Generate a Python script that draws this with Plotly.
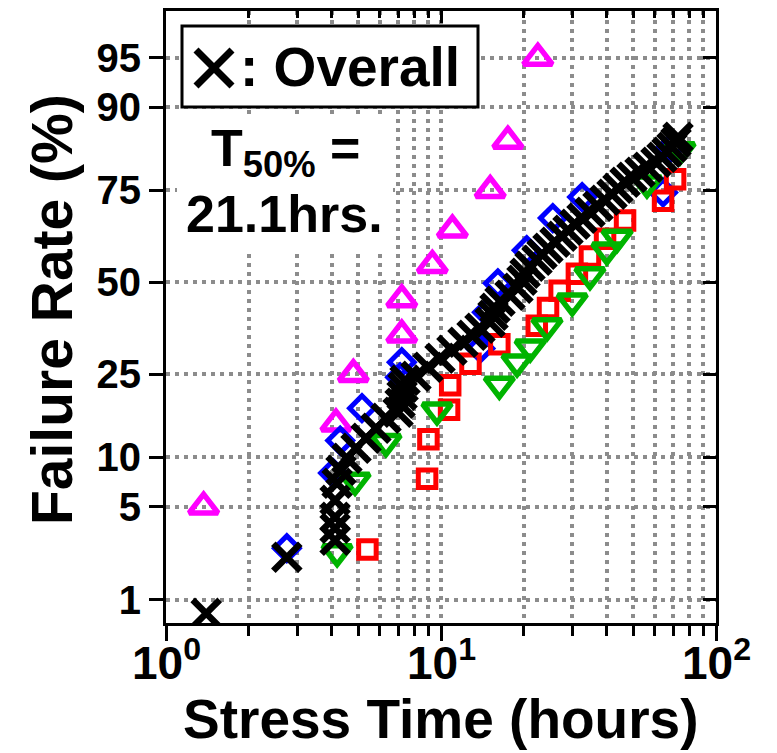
from statistics import NormalDist
import plotly.graph_objects as go

# ---- data: stress time (hours) and cumulative failure rate (%) ----
magenta_hours = [1.37, 4.15, 4.8, 7.2, 7.2, 9.3, 11.0, 15.1, 17.5, 22.5]
magenta_pct = [5, 15, 25, 35, 45, 55, 65, 75, 85, 95]

blue_hours = [2.75, 4.05, 4.3, 5.16, 7.1, 7.2, 13.9, 14.7, 16.1, 20.5, 25.5, 32.6, 64.2, 68.0]
blue_pct = [2.56, 8.1, 12.3, 17.8, 24.3, 27.9, 31.4, 41.3, 49.7, 59.3, 68.1, 73.4, 74.5, 83.7]

red_hours = [5.4, 8.9, 9.0, 10.7, 10.8, 12.8, 16.3, 22.3, 24.5, 27.0, 31.2, 34.8, 39.5, 46.7, 64.2, 71.0]
red_pct = [2.5, 7.5, 12.5, 17.5, 22.5, 27.5, 32.5, 37.5, 42.5, 47.5, 52.5, 57.5, 62.5, 67.5, 72.5, 77.5]

green_hours = [4.19, 4.87, 6.31, 9.67, 16.3, 18.9, 21.1, 24.3, 30.0, 34.8, 40.1, 43.7, 56.1, 74.0]
green_pct = [2.4, 7.3, 12.1, 17.4, 22.7, 27.9, 31.7, 37.4, 44.5, 52.1, 59.3, 62.9, 76.6, 83.4]

overall_hours = [1.40, 2.75, 4.12, 4.12, 4.12, 4.12, 4.19, 4.33, 4.55, 4.91,
                 5.34, 5.80, 6.31, 6.98, 7.10, 7.22, 7.28, 7.40, 8.11, 8.97,
                 9.92, 10.96, 12.02, 12.97, 13.86, 15.08, 15.46, 15.72, 16.39, 17.82,
                 19.05, 19.70, 20.21, 21.07, 22.34, 23.30, 24.49, 25.97, 27.54, 28.96,
                 30.71, 32.57, 34.83, 37.23, 39.48, 41.86, 44.01, 46.69, 49.50, 52.93,
                 56.58, 60.50, 63.62, 66.34, 69.18, 71.54, 72.76]
overall_pct = [0.76, 2.19, 2.93, 3.57, 4.25, 5.50, 7.03, 8.41, 9.85, 11.19,
               12.64, 14.23, 15.94, 17.03, 18.76, 20.38, 22.08, 23.63, 24.54, 26.67,
               28.88, 30.91, 33.01, 34.89, 36.81, 38.48, 40.45, 42.45, 44.47, 46.22,
               48.26, 50.6, 52.64, 54.68, 56.41, 58.14, 59.85, 61.54, 63.21, 64.86,
               66.48, 68.06, 69.62, 71.14, 72.62, 74.07, 75.47, 76.83, 77.94, 79.01,
               80.05, 81.06, 82.03, 82.98, 83.89, 84.77, 85.62]

y_tick_pct = [1, 5, 10, 25, 50, 75, 90, 95]
x_tick_vals = [1, 10, 100]
x_tick_text = ["10<sup>0</sup>", "10<sup>1</sup>", "10<sup>2</sup>"]
x_minor_vals = [2, 3, 4, 5, 6, 7, 8, 9, 20, 30, 40, 50, 60, 70, 80, 90]

# normal-probability (lognormal plot) scale for the failure axis
_nd = NormalDist()


def probit(pct_list):
    return [_nd.inv_cdf(p / 100.0) for p in pct_list]


Y_RANGE = [-2.498, 1.989]
FONT = "Liberation Sans, Arial, sans-serif"
GRID = "#8c8c8c"
DASH = "4px,5px"

fig = go.Figure()


def add_series(hours, pct, symbol, color, size, lw):
    fig.add_trace(go.Scatter(
        x=hours, y=probit(pct), mode="markers", showlegend=False,
        marker=dict(symbol=symbol, size=size, color=color,
                    line=dict(color=color, width=lw)),
    ))


add_series(magenta_hours, magenta_pct, "triangle-up-open", "#ff00ff", 25, 5.5)
add_series(blue_hours, blue_pct, "diamond-open", "#0000ff", 19, 5)
add_series(red_hours, red_pct, "square-open", "#ff0000", 17.5, 5)
add_series(green_hours, green_pct, "triangle-down-open", "#00b400", 25, 5.5)
add_series(overall_hours, overall_pct, "x-thin-open", "#000000", 27, 6.5)

# empty trace that carries the top / right frame axes
fig.add_trace(go.Scatter(x=[], y=[], xaxis="x2", yaxis="y2", showlegend=False))

tick_font = dict(family=FONT, size=40, color="black", weight="bold")

fig.update_layout(
    width=777, height=753,
    margin=dict(l=166, r=61, t=11, b=130),
    paper_bgcolor="white", plot_bgcolor="white",
    showlegend=False,
    xaxis=dict(
        type="log", range=[0, 2], showline=True, linewidth=3, linecolor="black",
        ticks="outside", ticklen=15, tickwidth=3, tickcolor="black",
        tickmode="array", tickvals=x_tick_vals, showticklabels=False,
        showgrid=True, gridcolor=GRID, gridwidth=3.5, griddash=DASH,
        zeroline=False,
        minor=dict(tickmode="array", tickvals=x_minor_vals, ticks="outside",
                   ticklen=10, tickwidth=3, tickcolor="black",
                   showgrid=True, gridcolor=GRID, gridwidth=3.5, griddash=DASH),
    ),
    yaxis=dict(
        range=Y_RANGE, showline=True, linewidth=3, linecolor="black",
        ticks="outside", ticklen=14, tickwidth=3, tickcolor="black",
        tickmode="array", tickvals=probit(y_tick_pct),
        ticktext=[str(p) for p in y_tick_pct], tickfont=tick_font,
        showgrid=True, gridcolor=GRID, gridwidth=3.5, griddash=DASH,
        zeroline=False,
    ),
    xaxis2=dict(
        type="log", range=[0, 2], overlaying="x", side="top", anchor="y2",
        showline=True, linewidth=3, linecolor="black",
        ticks="inside", ticklen=12, tickwidth=3, tickcolor="black",
        tickmode="array", tickvals=x_tick_vals, showticklabels=False,
        showgrid=False, zeroline=False,
        minor=dict(tickmode="array", tickvals=x_minor_vals, ticks="inside",
                   ticklen=7, tickwidth=3, tickcolor="black", showgrid=False),
    ),
    yaxis2=dict(
        range=Y_RANGE, overlaying="y", side="right", anchor="x2",
        showline=True, linewidth=3, linecolor="black",
        ticks="inside", ticklen=13, tickwidth=3, tickcolor="black",
        tickmode="array", tickvals=probit(y_tick_pct), showticklabels=False,
        showgrid=False, zeroline=False,
    ),
)

# plot area in pixels: x 166..716, y 11..623
PW, PH, L, T = 550.0, 612.0, 166.0, 11.0


def px(x):
    return (x - L) / PW


def py(y):
    return (T + PH - y) / PH


# decade labels under the time axis (annotation x is log10 on a log axis)
for val, txt in zip(x_tick_vals, x_tick_text):
    fig.add_annotation(xref="x", yref="paper", x=len(str(val)) - 1, y=py(660),
                       xanchor="center", yanchor="middle", showarrow=False,
                       text=txt,
                       font=dict(family=FONT, size=46, color="black", weight="bold"))

# legend box with the overall marker key
fig.add_shape(type="rect", xref="paper", yref="paper",
              x0=px(182), x1=px(478), y0=py(107), y1=py(26),
              line=dict(color="black", width=3), fillcolor="white", layer="above")
for (xa, ya, xb, yb) in [(196, 50, 232, 86), (196, 86, 232, 50)]:
    fig.add_shape(type="line", xref="paper", yref="paper",
                  x0=px(xa), y0=py(ya), x1=px(xb), y1=py(yb),
                  line=dict(color="black", width=7), layer="above")
fig.add_annotation(xref="paper", yref="paper", x=px(238), y=py(67),
                   xanchor="left", yanchor="middle", showarrow=False,
                   text=": Overall",
                   font=dict(family=FONT, size=55, color="black", weight="bold"))

# median life label on a white patch
fig.add_shape(type="rect", xref="paper", yref="paper",
              x0=px(177), x1=px(393), y0=py(250), y1=py(115),
              line=dict(width=0), fillcolor="white", layer="above")
fig.add_annotation(xref="paper", yref="paper", x=px(285), y=py(152),
                   xanchor="center", yanchor="middle", showarrow=False,
                   text="T<sub>50%</sub> =",
                   font=dict(family=FONT, size=52, color="black", weight="bold"))
fig.add_annotation(xref="paper", yref="paper", x=px(284), y=py(214),
                   xanchor="center", yanchor="middle", showarrow=False,
                   text="21.1hrs.",
                   font=dict(family=FONT, size=52, color="black", weight="bold"))

# axis titles
fig.add_annotation(xref="paper", yref="paper", x=0.5, y=py(719),
                   xanchor="center", yanchor="middle", showarrow=False,
                   text="Stress Time (hours)",
                   font=dict(family=FONT, size=55, color="black", weight="bold"))
fig.add_annotation(xref="paper", yref="paper", x=px(52), y=py(310),
                   xanchor="center", yanchor="middle", showarrow=False,
                   textangle=-90, text="Failure Rate (%)",
                   font=dict(family=FONT, size=57, color="black", weight="bold"))

fig.write_html("out.html")
